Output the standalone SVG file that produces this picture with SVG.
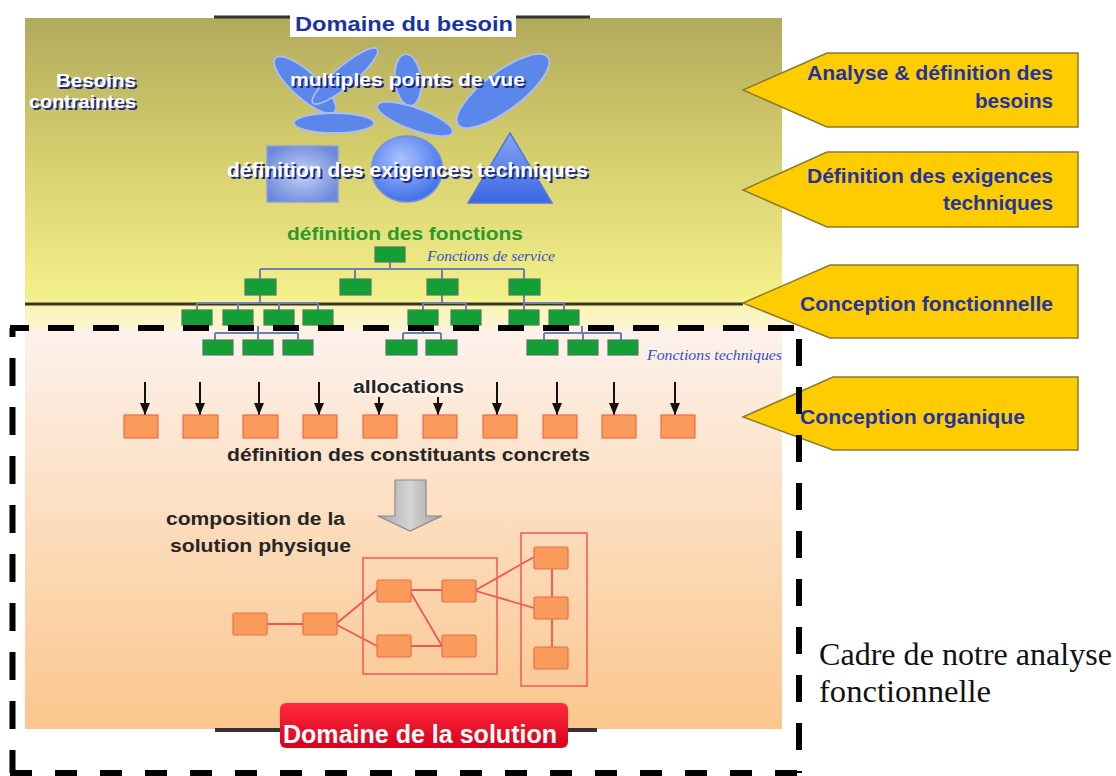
<svg xmlns="http://www.w3.org/2000/svg" width="1116" height="776" viewBox="0 0 1116 776">
<defs>
  <linearGradient id="gUp" x1="0" y1="0" x2="0" y2="1">
    <stop offset="0" stop-color="#b2aa5c"/>
    <stop offset="0.45" stop-color="#d6cf6e"/>
    <stop offset="0.9" stop-color="#f3f08a"/>
    <stop offset="0.93" stop-color="#faf5b8"/>
    <stop offset="1" stop-color="#fcf4d2"/>
  </linearGradient>
  <linearGradient id="gLow" x1="0" y1="0" x2="0" y2="1">
    <stop offset="0" stop-color="#fdf2ec"/>
    <stop offset="0.5" stop-color="#fcdcbc"/>
    <stop offset="1" stop-color="#fbc68c"/>
  </linearGradient>
  <radialGradient id="gSq" cx="0.5" cy="0.5" r="0.6">
    <stop offset="0" stop-color="#c4d2f4"/>
    <stop offset="1" stop-color="#6a88dc"/>
  </radialGradient>
  <radialGradient id="gCirc" cx="0.42" cy="0.35" r="0.7">
    <stop offset="0" stop-color="#a9c2ff"/>
    <stop offset="1" stop-color="#3b6ae6"/>
  </radialGradient>
  <linearGradient id="gTri" x1="0" y1="0" x2="0" y2="1">
    <stop offset="0" stop-color="#86a4f4"/>
    <stop offset="1" stop-color="#3a68e2"/>
  </linearGradient>
  <linearGradient id="gRed" x1="0" y1="0" x2="0" y2="1">
    <stop offset="0" stop-color="#ff2a3e"/>
    <stop offset="1" stop-color="#d8001c"/>
  </linearGradient>
  <linearGradient id="gGray" x1="0" y1="0" x2="1" y2="0">
    <stop offset="0" stop-color="#a8a8a8"/>
    <stop offset="0.5" stop-color="#d4d4d4"/>
    <stop offset="1" stop-color="#a0a0a0"/>
  </linearGradient>
  <marker id="ah" markerWidth="12" markerHeight="10" refX="12" refY="5" orient="auto" markerUnits="userSpaceOnUse">
    <path d="M0,0 L12,5 L0,10 z" fill="#111"/>
  </marker>
</defs>
<style>
  .b{font-family:"Liberation Sans",Arial,sans-serif;font-weight:bold}
  .sh{fill:#1b2a88}
  .wt{fill:#ffffff}
  .al{fill:#1f34a0;font-size:20px}
  .dk{fill:#262626;font-size:18px}
  .it{font-family:"Liberation Serif","Times New Roman",serif;font-style:italic;font-size:14px;fill:#3050c8}
  .g{fill:#12a034;stroke:#4a7a66;stroke-width:1.2}
  .tl{stroke:#6d80b0;stroke-width:2;fill:none}
  .o{fill:#fb9b5b;stroke:#ec6e48;stroke-width:1.2}
  .rl{stroke:#f05656;stroke-width:1.8;fill:none}
  .el{fill:#5b87ea;stroke:#aabef2;stroke-width:1.8}
  .arr{fill:#ffcc00;stroke:#8a7a30;stroke-width:1.5}
  .alloc{stroke:#111;stroke-width:2;marker-end:url(#ah)}
  .dash{fill:none;stroke:#000;stroke-width:6}
  .serif{font-family:"Liberation Serif","Times New Roman",serif;font-size:32px;fill:#111}
</style>

<!-- panel background -->
<g id="panel">
  <rect x="25" y="18" width="757" height="311" fill="url(#gUp)"/>
  <rect x="25" y="329" width="757" height="400" fill="url(#gLow)"/>
  <line x1="25" y1="304" x2="743" y2="304" stroke="#3a3520" stroke-width="3"/>
</g>

<!-- top title -->
<g id="domaine-besoin">
  <line x1="214" y1="17" x2="590" y2="17" stroke="#333" stroke-width="3"/>
  <rect x="290" y="12" width="226" height="25" fill="#ffffff"/>
  <text class="b" x="295" y="31" font-size="21" fill="#1a33a0" textLength="218" lengthAdjust="spacingAndGlyphs">Domaine du besoin</text>
</g>

<g id="besoins">
  <text class="b sh" x="58" y="89" font-size="19" textLength="80" lengthAdjust="spacingAndGlyphs">Besoins</text>
  <text class="b wt" x="56" y="87" font-size="19" textLength="80" lengthAdjust="spacingAndGlyphs">Besoins</text>
  <text class="b sh" x="31" y="110" font-size="19" textLength="107" lengthAdjust="spacingAndGlyphs">contraintes</text>
  <text class="b wt" x="29" y="108" font-size="19" textLength="107" lengthAdjust="spacingAndGlyphs">contraintes</text>
</g>

<g id="points-de-vue">
  <ellipse class="el" cx="305" cy="85" rx="40" ry="13" transform="rotate(42 305 85)"/>
  <ellipse class="el" cx="345" cy="76" rx="42" ry="10" transform="rotate(-40 345 76)"/>
  <ellipse class="el" cx="334" cy="123" rx="40" ry="10"/>
  <ellipse class="el" cx="408" cy="80" rx="13" ry="26" transform="rotate(-6 408 80)"/>
  <ellipse class="el" cx="415" cy="119" rx="40" ry="11" transform="rotate(20 415 119)"/>
  <ellipse class="el" cx="503" cy="91" rx="56" ry="19" transform="rotate(-37 503 91)"/>
  <text class="b sh" x="292" y="88" font-size="19" textLength="235" lengthAdjust="spacingAndGlyphs">multiples points de vue</text>
  <text class="b wt" x="290" y="86" font-size="19" textLength="235" lengthAdjust="spacingAndGlyphs">multiples points de vue</text>
</g>

<g id="exigences">
  <rect x="267" y="146" width="71" height="56" fill="url(#gSq)" stroke="#8aa0e0" stroke-width="1.5"/>
  <ellipse cx="407" cy="169" rx="35.5" ry="33" fill="url(#gCirc)" stroke="#6f90ea" stroke-width="1.5"/>
  <polygon points="510,133 552,203 468,203" fill="url(#gTri)" stroke="#5078e0" stroke-width="1.5"/>
  <text class="b sh" x="229" y="179" font-size="20" textLength="361" lengthAdjust="spacingAndGlyphs">définition des exigences techniques</text>
  <text class="b wt" x="227" y="177" font-size="20" textLength="361" lengthAdjust="spacingAndGlyphs">définition des exigences techniques</text>
</g>

<g id="fonctions">
  <text class="b" x="287" y="240" font-size="19" fill="#2a9a2a" textLength="236" lengthAdjust="spacingAndGlyphs">définition des fonctions</text>
  <text class="it" x="427" y="261" textLength="128" lengthAdjust="spacingAndGlyphs">Fonctions de service</text>
  <text class="it" x="647" y="360" textLength="135" lengthAdjust="spacingAndGlyphs">Fonctions techniques</text>
</g>

<!-- tree connectors -->
<g id="tree-connectors">
  <path class="tl" d="M390,262 V269 M260,269 H524 M260,269 V279 M355,269 V279 M442,269 V279 M524,269 V279"/>
  <path class="tl" d="M260,295 V303 M197,303 H318 M197,303 V310 M238,303 V310 M279,303 V310 M318,303 V310"/>
  <path class="tl" d="M442,295 V303 M423,303 H466 M423,303 V310 M466,303 V310"/>
  <path class="tl" d="M524,295 V310 M524,303 H564 M564,303 V310"/>
  <path class="tl" d="M258,326 V333 M215,333 H298 M215,333 V340 M258,333 V340 M298,333 V340"/>
  <path class="tl" d="M423,325 V333 M403,333 H441 M403,333 V340 M441,333 V340"/>
  <path class="tl" d="M582,326 V333 M544,333 H621 M544,333 V340 M583,333 V340 M621,333 V340"/>
</g>

<g id="tree-nodes">
  <rect class="g" x="375" y="247" width="30" height="15"/>
  <rect class="g" x="245" y="279" width="31" height="16"/>
  <rect class="g" x="340" y="279" width="31" height="16"/>
  <rect class="g" x="427" y="279" width="31" height="16"/>
  <rect class="g" x="509" y="279" width="31" height="16"/>
  <rect class="g" x="182" y="310" width="30" height="15"/>
  <rect class="g" x="223" y="310" width="30" height="15"/>
  <rect class="g" x="264" y="310" width="30" height="15"/>
  <rect class="g" x="303" y="310" width="30" height="15"/>
  <rect class="g" x="408" y="310" width="30" height="15"/>
  <rect class="g" x="451" y="310" width="30" height="15"/>
  <rect class="g" x="509" y="310" width="30" height="15"/>
  <rect class="g" x="549" y="310" width="30" height="15"/>
  <rect class="g" x="203" y="340" width="30" height="15"/>
  <rect class="g" x="243" y="340" width="30" height="15"/>
  <rect class="g" x="283" y="340" width="30" height="15"/>
  <rect class="g" x="386" y="340" width="31" height="15"/>
  <rect class="g" x="426" y="340" width="31" height="15"/>
  <rect class="g" x="527" y="340" width="31" height="15"/>
  <rect class="g" x="568" y="340" width="30" height="15"/>
  <rect class="g" x="608" y="340" width="30" height="15"/>
</g>

<!-- allocations -->
<g id="allocation-arrows">
  <line class="alloc" x1="145" y1="382" x2="145" y2="415"/>
  <line class="alloc" x1="200" y1="382" x2="200" y2="415"/>
  <line class="alloc" x1="259" y1="382" x2="259" y2="415"/>
  <line class="alloc" x1="319" y1="382" x2="319" y2="415"/>
  <line class="alloc" x1="379" y1="397" x2="379" y2="415"/>
  <line class="alloc" x1="438" y1="397" x2="438" y2="415"/>
  <line class="alloc" x1="497" y1="382" x2="497" y2="415"/>
  <line class="alloc" x1="557" y1="382" x2="557" y2="415"/>
  <line class="alloc" x1="614" y1="382" x2="614" y2="415"/>
  <line class="alloc" x1="675" y1="382" x2="675" y2="415"/>
</g>
<g id="allocations-label">
  <text class="b dk" x="353" y="393" font-size="17" textLength="111" lengthAdjust="spacingAndGlyphs" stroke="#fff6ee" stroke-width="3" paint-order="stroke">allocations</text>
</g>
<g id="constituants">
  <rect class="o" x="124" y="415" width="34" height="23"/>
  <rect class="o" x="183" y="415" width="35" height="23"/>
  <rect class="o" x="243" y="415" width="35" height="23"/>
  <rect class="o" x="303" y="415" width="34" height="23"/>
  <rect class="o" x="363" y="415" width="34" height="23"/>
  <rect class="o" x="423" y="415" width="34" height="23"/>
  <rect class="o" x="483" y="415" width="34" height="23"/>
  <rect class="o" x="543" y="415" width="34" height="23"/>
  <rect class="o" x="602" y="415" width="34" height="23"/>
  <rect class="o" x="661" y="415" width="34" height="23"/>
  <text class="b dk" x="227" y="461" textLength="363" lengthAdjust="spacingAndGlyphs">définition des constituants concrets</text>
</g>

<g id="gray-arrow">
  <polygon points="395,480 426,480 426,516 442,516 410,531 378,516 395,516" fill="url(#gGray)" stroke="#8a8a8a" stroke-width="1.2"/>
</g>

<g id="composition-label">
  <text class="b dk" x="166" y="525" textLength="179" lengthAdjust="spacingAndGlyphs">composition de la</text>
  <text class="b dk" x="170" y="552" textLength="181" lengthAdjust="spacingAndGlyphs">solution physique</text>
</g>

<!-- solution composition -->
<g id="composition-connectors">
  <path class="rl" d="M267,624 H303"/>
  <path class="rl" d="M337,623 L377,590 M337,625 L377,646"/>
  <path class="rl" d="M411,590 H442 M408,588 L442,646 M411,646 H442"/>
  <path class="rl" d="M476,590 L534,557 M476,591 L534,608"/>
  <path class="rl" d="M552,569 V597 M552,619 V647"/>
</g>
<g id="containers">
  <rect x="363" y="558" width="134" height="116" fill="none" stroke="#f06060" stroke-width="1.6"/>
  <rect x="521" y="533" width="66" height="153" fill="none" stroke="#f06060" stroke-width="1.6"/>
</g>
<g id="composition-nodes">
  <rect class="o" x="233" y="613" width="34" height="22" rx="2"/>
  <rect class="o" x="303" y="613" width="34" height="22" rx="2"/>
  <rect class="o" x="377" y="580" width="34" height="22" rx="2"/>
  <rect class="o" x="442" y="580" width="34" height="22" rx="2"/>
  <rect class="o" x="377" y="635" width="34" height="22" rx="2"/>
  <rect class="o" x="442" y="635" width="34" height="22" rx="2"/>
  <rect class="o" x="534" y="547" width="34" height="22" rx="2"/>
  <rect class="o" x="534" y="597" width="34" height="22" rx="2"/>
  <rect class="o" x="534" y="647" width="34" height="22" rx="2"/>
</g>

<g id="domaine-solution">
  <line x1="215" y1="730" x2="597" y2="730" stroke="#333" stroke-width="4"/>
  <rect x="280" y="703" width="288" height="45" rx="6" fill="url(#gRed)"/>
  <text class="b wt" x="283" y="743" font-size="26" textLength="274" lengthAdjust="spacingAndGlyphs">Domaine de la solution</text>
</g>

<!-- right phase arrows -->
<g id="phase-1">
  <polygon class="arr" points="827,53 1078,53 1078,127 827,127 743,90"/>
  <text class="b al" x="807" y="80" textLength="246" lengthAdjust="spacingAndGlyphs">Analyse &amp; définition des</text>
  <text class="b al" x="975" y="108" textLength="78" lengthAdjust="spacingAndGlyphs">besoins</text>
</g>
<g id="phase-2">
  <polygon class="arr" points="827,152 1078,152 1078,227 827,227 743,190"/>
  <text class="b al" x="807" y="183" textLength="246" lengthAdjust="spacingAndGlyphs">Définition des exigences</text>
  <text class="b al" x="943" y="210" textLength="110" lengthAdjust="spacingAndGlyphs">techniques</text>
</g>
<g id="phase-3">
  <polygon class="arr" points="830,265 1078,265 1078,338 830,338 743,303"/>
  <text class="b al" x="800" y="311" textLength="253" lengthAdjust="spacingAndGlyphs">Conception fonctionnelle</text>
</g>
<g id="phase-4">
  <polygon class="arr" points="833,377 1078,377 1078,450 833,450 743,417"/>
  <text class="b al" x="800" y="424" textLength="225" lengthAdjust="spacingAndGlyphs">Conception organique</text>
</g>

<!-- dashed frame -->
<g id="cadre">
  <path class="dash" d="M10,328 H799" stroke-dasharray="26 19" stroke-dashoffset="7"/>
  <path class="dash" d="M12.5,328 V773" stroke-dasharray="28 21" stroke-dashoffset="19"/>
  <path class="dash" d="M799,328 V773" stroke-dasharray="27 21" stroke-dashoffset="37"/>
  <path class="dash" d="M10,773 H799" stroke-dasharray="22 23" stroke-dashoffset="0"/>
  <text class="serif" x="819" y="665" textLength="293" lengthAdjust="spacingAndGlyphs">Cadre de notre analyse</text>
  <text class="serif" x="819" y="702" textLength="172" lengthAdjust="spacingAndGlyphs">fonctionnelle</text>
</g>
</svg>
